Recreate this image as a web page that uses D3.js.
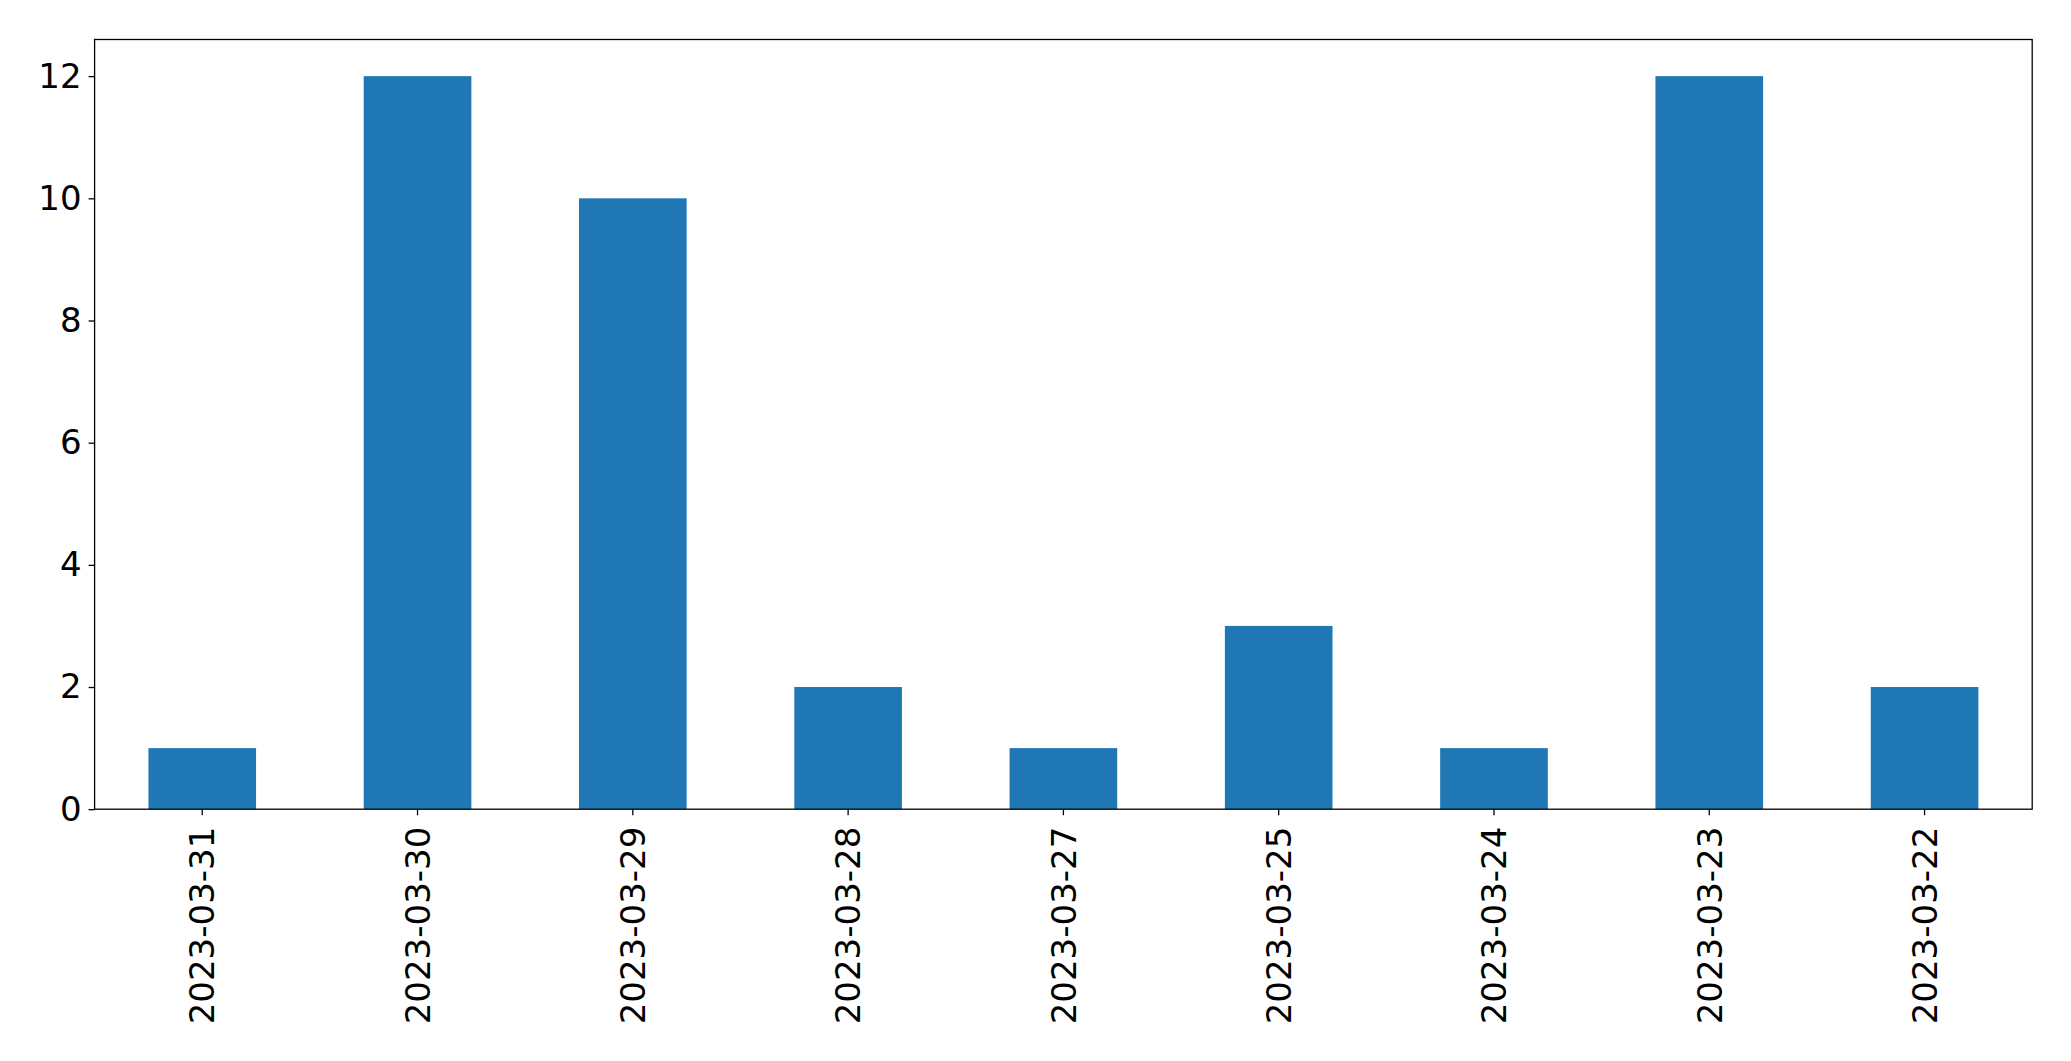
<!DOCTYPE html>
<html>
<head>
<meta charset="utf-8">
<script src="https://cdn.jsdelivr.net/npm/d3@7"></script>
<style>
html,body{margin:0;padding:0;background:#fff;}
svg{display:block;}
</style>
</head>
<body>
<script>
const categories = ["2023-03-31","2023-03-30","2023-03-29","2023-03-28","2023-03-27","2023-03-25","2023-03-24","2023-03-23","2023-03-22"];
const values = [1,12,10,2,1,3,1,12,2];
const yTicks = [0,2,4,6,8,10,12];

const W = 2071, H = 1061;
const margin = {left: 94.6, right: 2071-2032.2, top: 39.5, bottom: 1061-809.2};
const svg = d3.select("body").append("svg").attr("width", W).attr("height", H);

const x = d3.scaleBand().domain(categories).range([margin.left, W - margin.right]).paddingInner(0.5).paddingOuter(0.25);
const y = d3.scaleLinear().domain([0, 12.6]).range([H - margin.bottom, margin.top]);

svg.append("g").selectAll("rect").data(values).join("rect")
  .attr("x", (d,i) => x(categories[i]))
  .attr("width", x.bandwidth())
  .attr("y", d => y(d))
  .attr("height", d => y(0) - y(d))
  .attr("fill", "#1f77b4");

const font = "'DejaVu Sans', sans-serif";
const fs = 34;

// y axis
const ya = svg.append("g").attr("transform", `translate(${margin.left},0)`)
  .call(d3.axisLeft(y).tickValues(yTicks).tickSize(6).tickPadding(7).tickFormat(d3.format("d")));
ya.select(".domain").remove();
ya.selectAll("line").attr("stroke", "#000").attr("stroke-width", 1.3);
ya.selectAll("text").attr("font-family", font).attr("font-size", fs).attr("fill", "#000");

// x axis
const xa = svg.append("g").attr("transform", `translate(0,${H - margin.bottom})`)
  .call(d3.axisBottom(x).tickSize(6).tickPadding(0));
xa.select(".domain").remove();
xa.selectAll("line").attr("stroke", "#000").attr("stroke-width", 1.3);
xa.selectAll("text")
  .attr("font-family", font).attr("font-size", fs).attr("fill", "#000")
  .attr("transform", "translate(0,17.5) rotate(-90)")
  .attr("text-anchor", "end")
  .attr("x", 0).attr("y", 0).attr("dy", "0.36em");

// frame
svg.append("rect")
  .attr("x", margin.left).attr("y", margin.top)
  .attr("width", W - margin.right - margin.left)
  .attr("height", H - margin.bottom - margin.top)
  .attr("fill", "none").attr("stroke", "#000").attr("stroke-width", 1.3);
</script>
</body>
</html>
